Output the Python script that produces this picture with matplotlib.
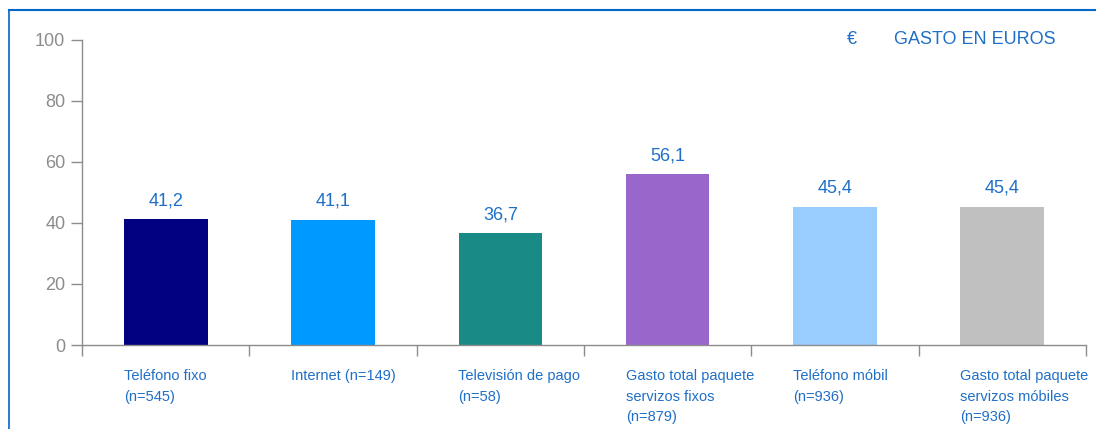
import matplotlib.pyplot as plt
from matplotlib.lines import Line2D
import matplotlib.transforms as mtrans

plt.rcParams['font.family'] = ['Liberation Sans', 'DejaVu Sans']

# data
categories = ["Teléfono fixo\n(n=545)", "Internet (n=149)", "Televisión de pago\n(n=58)",
              "Gasto total paquete\nservizos fixos\n(n=879)", "Teléfono móbil\n(n=936)",
              "Gasto total paquete\nservizos móbiles\n(n=936)"]
values = [41.2, 41.1, 36.7, 56.1, 45.4, 45.4]
value_labels = ["41,2", "41,1", "36,7", "56,1", "45,4", "45,4"]
bar_colors = ["#000080", "#0099FF", "#1A8A87", "#9966CC", "#99CCFF", "#C0C0C0"]

blue = "#1F6FC8"
gray = "#8C8C8C"

fig = plt.figure(figsize=(10.96, 4.29), dpi=100)
ax = fig.add_axes([82/1096, 1-345/429, 1004/1096, 305/429])

x = list(range(len(values)))
ax.bar(x, values, width=0.5, color=bar_colors)
for xi, v, lab in zip(x, values, value_labels):
    ax.annotate(lab, (xi, v), xytext=(0, 7), textcoords='offset points',
                ha='center', va='bottom', color=blue, fontsize=13)

ax.set_xlim(-0.5, len(values) - 0.5)
ax.set_ylim(0, 100)
ax.set_yticks([0, 20, 40, 60, 80, 100])
ax.tick_params(axis='y', direction='out', length=8, width=1, color=gray,
               labelcolor=gray, labelsize=13, pad=4)
ax.set_xticks([i - 0.5 for i in range(len(values) + 1)])
ax.set_xticklabels([])
ax.tick_params(axis='x', direction='out', length=8, width=1, color=gray)

for s in ['top', 'right']:
    ax.spines[s].set_visible(False)
for s in ['left', 'bottom']:
    ax.spines[s].set_color(gray)
    ax.spines[s].set_linewidth(1)

trans = mtrans.blended_transform_factory(ax.transData, ax.transAxes)
for xi, cat in zip(x, categories):
    ax.text(xi - 0.25, -0.078, cat, transform=trans, ha='left', va='top',
            color=blue, fontsize=10.5, linespacing=1.62)

# header text
fig.text(847/1096, 1-39/429, "€", color=blue, fontsize=13, va='center', ha='left')
fig.text(894/1096, 1-39/429, "GASTO EN EUROS", color=blue, fontsize=13, va='center', ha='left')

# frame lines
fig.add_artist(Line2D([9/1096, 1.0], [1-10/429, 1-10/429], color="#0066CC", lw=1.5,
                      transform=fig.transFigure))
fig.add_artist(Line2D([9/1096, 9/1096], [0, 1-10/429], color="#0066CC", lw=1.2,
                      transform=fig.transFigure))

fig.savefig("out.png", dpi=100)
